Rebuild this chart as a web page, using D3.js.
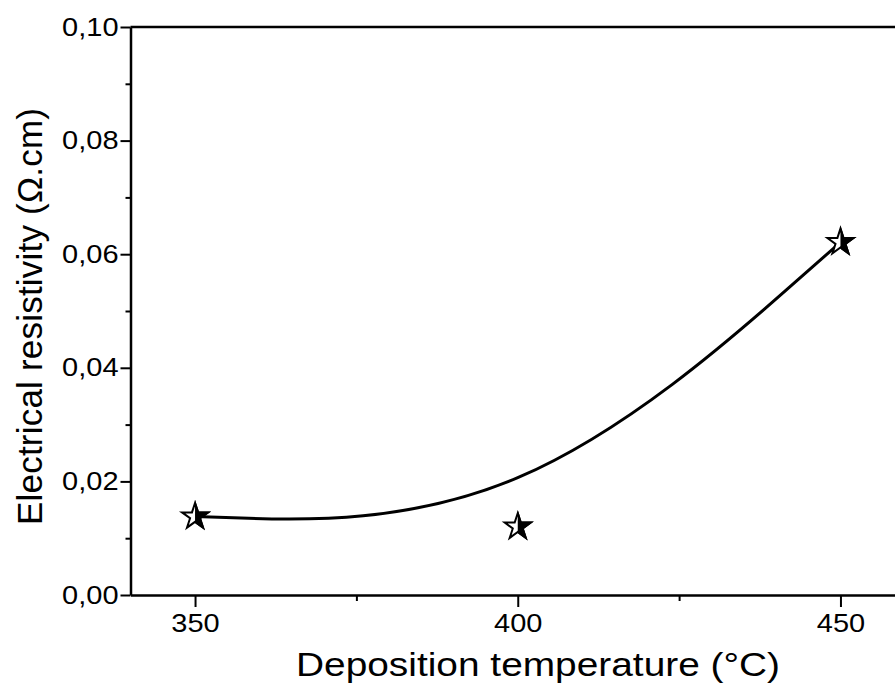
<!DOCTYPE html>
<html>
<head>
<meta charset="utf-8">
<script src="https://cdn.jsdelivr.net/npm/d3@7"></script>
<style>
  body { margin: 0; background: #fff; }
  svg { display: block; font-family: "Liberation Sans", Arial, sans-serif; }
</style>
</head>
<body>
<div id="chart"></div>
<script>
// data
const temperature = [350, 400, 450];
const resistivity = [0.0138, 0.0120, 0.0621];
const xTicks = [350, 400, 450];
const xMinor = [375, 425];
const yTicks = [0, 0.02, 0.04, 0.06, 0.08, 0.10];
const yMinor = [0.01, 0.03, 0.05, 0.07, 0.09];

const width = 895, height = 684;
const margin = {top: 27, right: -10, bottom: 89, left: 130.5};
const innerW = width - margin.left - margin.right;
const innerH = height - margin.top - margin.bottom;
const stretch = 1.16; // the reference text is drawn a bit wide

const svg = d3.select("#chart").append("svg")
    .attr("width", width)
    .attr("height", height);

const g = svg.append("g")
    .attr("transform", `translate(${margin.left},${margin.top})`);

const x = d3.scaleLinear().domain([340, 460]).range([0, innerW]);
const y = d3.scaleLinear().domain([0, 0.10]).range([innerH, 0]);

const comma = v => d3.format(".2f")(v).replace(".", ",");

// minor ticks
g.append("g")
    .attr("transform", `translate(0,${innerH})`)
    .call(d3.axisBottom(x).tickValues(xMinor).tickSize(6).tickFormat(""))
    .call(a => a.select(".domain").remove());
g.append("g")
    .call(d3.axisLeft(y).tickValues(yMinor).tickSize(5).tickFormat(""))
    .call(a => a.select(".domain").remove());

// major axes
g.append("g")
    .attr("transform", `translate(0,${innerH})`)
    .call(d3.axisBottom(x).tickValues(xTicks).tickSize(12).tickSizeOuter(0).tickPadding(7));
const yAxis = g.append("g")
    .call(d3.axisLeft(y).tickValues(yTicks).tickSize(10).tickSizeOuter(0).tickPadding(2).tickFormat(comma));

g.selectAll(".tick line").attr("stroke", "#000").attr("stroke-width", 2);
g.selectAll(".domain").attr("stroke", "#000").attr("stroke-width", 2.5);
g.selectAll(".tick text").attr("fill", "#000")
    .attr("transform", `scale(${stretch},1)`)
    .style("font-size", "25px")
    .style("font-family", "'Liberation Sans', Arial, sans-serif");
yAxis.selectAll(".tick text").attr("x", -12 / stretch);

// frame top / right
g.append("line")
    .attr("x1", 0).attr("x2", innerW)
    .attr("y1", 0).attr("y2", 0)
    .attr("stroke", "#000").attr("stroke-width", 2.5);
g.append("line")
    .attr("x1", innerW).attr("x2", innerW)
    .attr("y1", 0).attr("y2", innerH)
    .attr("stroke", "#000").attr("stroke-width", 2.5);

// smooth curve
const pts = temperature.map((t, i) => [t, resistivity[i]]);
g.append("path")
    .datum(pts)
    .attr("fill", "none")
    .attr("stroke", "#000")
    .attr("stroke-width", 3)
    .attr("d", d3.line().x(d => x(d[0])).y(d => y(d[1])).curve(d3.curveBasis));

// half-filled star markers
const star = d3.symbol().type(d3.symbolStar).size(210)();
svg.append("defs").append("clipPath").attr("id", "rightHalf")
    .append("rect").attr("x", 0).attr("y", -30).attr("width", 30).attr("height", 60);

const marks = g.selectAll(".mark")
    .data(pts)
    .enter().append("g")
    .attr("class", "mark")
    .attr("transform", d => `translate(${x(d[0])},${y(d[1])})`);
marks.append("path").attr("d", star)
    .attr("fill", "#fff").attr("stroke", "#000").attr("stroke-width", 2);
marks.append("path").attr("d", star)
    .attr("fill", "#000").attr("stroke", "#000").attr("stroke-width", 2)
    .attr("clip-path", "url(#rightHalf)");

// axis titles
svg.append("text")
    .attr("transform", `translate(296,676) scale(${stretch},1)`)
    .style("font-size", "33.5px")
    .text("Deposition temperature (°C)");

svg.append("text")
    .attr("transform", "translate(42,525) rotate(-90)")
    .attr("textLength", 417)
    .attr("lengthAdjust", "spacing")
    .style("font-size", "35px")
    .text("Electrical resistivity (Ω.cm)");
</script>
</body>
</html>
